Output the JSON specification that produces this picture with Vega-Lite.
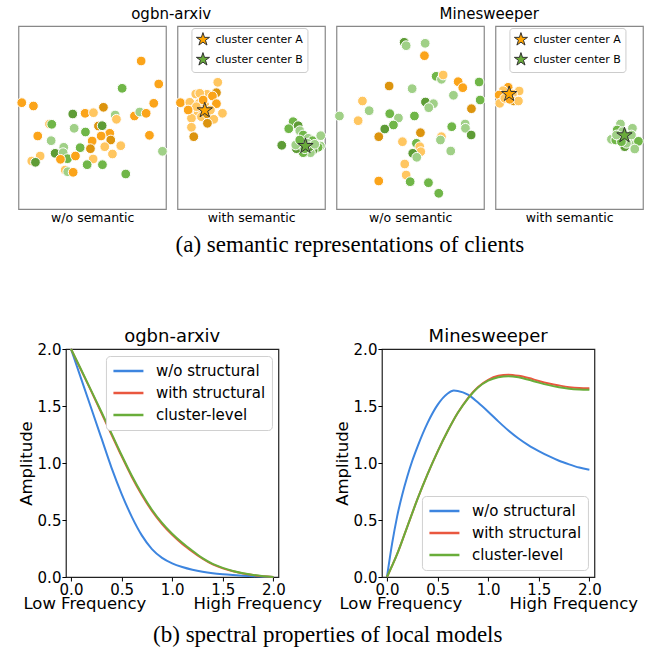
{
"$schema": "https://vega.github.io/schema/vega-lite/v6.json",
"padding": {"left": 14, "top": 6, "right": 0, "bottom": 0},
"config": {
  "font": "DejaVu Sans",
  "title": {"fontWeight": "normal", "color": "black"},
  "axis": {"labelColor": "black", "titleColor": "black", "titleFontWeight": "normal", "tickColor": "black", "grid": false},
  "legend": {"labelColor": "black"}
},
"datasets": {
  "pts": [
    {"p":1,"x":122.7,"y":35,"c":"A"},{"p":1,"x":140.3,"y":58,"c":"A"},{"p":1,"x":103.7,"y":62.3,"c":"B"},{"p":1,"x":3.3,"y":76.7,"c":"A"},{"p":1,"x":15,"y":80,"c":"A"},{"p":1,"x":135.3,"y":77.3,"c":"A"},{"p":1,"x":54.3,"y":88,"c":"Bd"},{"p":1,"x":66.7,"y":87.3,"c":"A"},{"p":1,"x":75,"y":86.7,"c":"Al"},{"p":1,"x":85,"y":81.3,"c":"Ad"},{"p":1,"x":96.7,"y":89,"c":"Bl"},{"p":1,"x":98,"y":93.3,"c":"Al"},{"p":1,"x":116,"y":90,"c":"A"},{"p":1,"x":121.3,"y":86,"c":"Bl"},{"p":1,"x":127.7,"y":87.3,"c":"A"},{"p":1,"x":31,"y":98,"c":"Al"},{"p":1,"x":33.3,"y":98.3,"c":"B"},{"p":1,"x":55.7,"y":102.3,"c":"Bl"},{"p":1,"x":67,"y":106,"c":"B"},{"p":1,"x":80,"y":100,"c":"Ad"},{"p":1,"x":83.7,"y":99.7,"c":"Bd"},{"p":1,"x":19.3,"y":110,"c":"A"},{"p":1,"x":32.7,"y":114.7,"c":"Bl"},{"p":1,"x":45.3,"y":121.3,"c":"Bl"},{"p":1,"x":91.3,"y":107.3,"c":"A"},{"p":1,"x":82.7,"y":110,"c":"A"},{"p":1,"x":92.3,"y":114,"c":"Ad"},{"p":1,"x":73.7,"y":115,"c":"A"},{"p":1,"x":131,"y":109.3,"c":"A"},{"p":1,"x":61.7,"y":121.7,"c":"B"},{"p":1,"x":72,"y":122.7,"c":"Ad"},{"p":1,"x":86.3,"y":120.7,"c":"Al"},{"p":1,"x":102.3,"y":119.7,"c":"Al"},{"p":1,"x":36.7,"y":127.3,"c":"Bd"},{"p":1,"x":44.7,"y":126.7,"c":"Bl"},{"p":1,"x":49,"y":132.7,"c":"B"},{"p":1,"x":42,"y":133.3,"c":"A"},{"p":1,"x":57,"y":130,"c":"A"},{"p":1,"x":74.7,"y":133,"c":"Al"},{"p":1,"x":94,"y":128,"c":"Al"},{"p":1,"x":144,"y":125.3,"c":"Bl"},{"p":1,"x":21.7,"y":130,"c":"Al"},{"p":1,"x":13.3,"y":135,"c":"Al"},{"p":1,"x":17,"y":136.3,"c":"Bd"},{"p":1,"x":68.7,"y":138.7,"c":"B"},{"p":1,"x":84,"y":138.7,"c":"B"},{"p":1,"x":46.7,"y":144,"c":"Al"},{"p":1,"x":49.3,"y":145.7,"c":"Bl"},{"p":1,"x":54.7,"y":146.3,"c":"A"},{"p":1,"x":107.3,"y":148,"c":"B"},
    {"p":2,"x":40.3,"y":56.3,"c":"Al"},{"p":2,"x":39,"y":66.7,"c":"Ad"},{"p":2,"x":18.3,"y":68,"c":"Al"},{"p":2,"x":29.7,"y":68.3,"c":"Al"},{"p":2,"x":35,"y":70,"c":"A"},{"p":2,"x":22.3,"y":67.3,"c":"Al"},{"p":2,"x":3,"y":76.7,"c":"A"},{"p":2,"x":12.3,"y":76.3,"c":"Al"},{"p":2,"x":39,"y":77.7,"c":"A"},{"p":2,"x":45,"y":87.3,"c":"Al"},{"p":2,"x":15.7,"y":84,"c":"Al"},{"p":2,"x":20.7,"y":87.3,"c":"Al"},{"p":2,"x":24,"y":90.7,"c":"Al"},{"p":2,"x":14,"y":92.3,"c":"Al"},{"p":2,"x":29.7,"y":88,"c":"Ad"},{"p":2,"x":36.3,"y":93.3,"c":"Al"},{"p":2,"x":30,"y":97.3,"c":"Ad"},{"p":2,"x":14,"y":101.3,"c":"Al"},{"p":2,"x":16.3,"y":110.7,"c":"Ad"},{"p":2,"x":27.3,"y":79,"c":"Al"},{"p":2,"x":21.7,"y":77.3,"c":"Al"},{"p":2,"x":19,"y":80.7,"c":"Al"},{"p":2,"x":33,"y":84,"c":"Al"},{"p":2,"x":25.7,"y":74,"c":"A"},{"p":2,"x":10.7,"y":84,"c":"A"},
    {"p":2,"x":115.7,"y":95.7,"c":"B"},{"p":2,"x":120.7,"y":99.7,"c":"Bd"},{"p":2,"x":111.3,"y":102.7,"c":"B"},{"p":2,"x":122.3,"y":104.7,"c":"Bl"},{"p":2,"x":125.7,"y":109,"c":"B"},{"p":2,"x":130.7,"y":112.3,"c":"Bl"},{"p":2,"x":135,"y":114.7,"c":"B"},{"p":2,"x":143.3,"y":109.7,"c":"Bl"},{"p":2,"x":143,"y":120,"c":"Bl"},{"p":2,"x":140.7,"y":121.3,"c":"B"},{"p":2,"x":135.7,"y":124,"c":"Bd"},{"p":2,"x":133,"y":126.7,"c":"Bl"},{"p":2,"x":125.7,"y":126.7,"c":"B"},{"p":2,"x":119,"y":122.7,"c":"Bd"},{"p":2,"x":124,"y":117.3,"c":"Bl"},{"p":2,"x":130,"y":117.3,"c":"Bl"},{"p":2,"x":104.3,"y":119.3,"c":"Bd"},{"p":2,"x":118.3,"y":119,"c":"Bl"},{"p":2,"x":132.3,"y":120.7,"c":"Bd"},{"p":2,"x":137.3,"y":118.3,"c":"Bl"},{"p":2,"x":127.3,"y":122.7,"c":"B"},{"p":2,"x":122.3,"y":114,"c":"B"},
    {"p":3,"x":67.7,"y":16.3,"c":"Bd"},{"p":3,"x":69.7,"y":19.7,"c":"Bl"},{"p":3,"x":88.7,"y":17.3,"c":"Bl"},{"p":3,"x":88,"y":29.7,"c":"A"},{"p":3,"x":99.7,"y":50.3,"c":"B"},{"p":3,"x":105,"y":53.3,"c":"Bl"},{"p":3,"x":106.7,"y":49,"c":"Al"},{"p":3,"x":121.7,"y":55.7,"c":"A"},{"p":3,"x":126.3,"y":61.7,"c":"A"},{"p":3,"x":142.7,"y":56,"c":"B"},{"p":3,"x":143.7,"y":74,"c":"B"},{"p":3,"x":52.7,"y":60,"c":"Ad"},{"p":3,"x":75.7,"y":62.7,"c":"Bl"},{"p":3,"x":26,"y":75,"c":"Al"},{"p":3,"x":89,"y":76,"c":"Bd"},{"p":3,"x":97,"y":77.7,"c":"Bl"},{"p":3,"x":92.3,"y":81.7,"c":"Bl"},{"p":3,"x":117,"y":69.3,"c":"Bl"},{"p":3,"x":135,"y":82.7,"c":"Ad"},{"p":3,"x":3,"y":90,"c":"Bl"},{"p":3,"x":21.7,"y":94.7,"c":"Al"},{"p":3,"x":32.7,"y":84.7,"c":"Bl"},{"p":3,"x":53.3,"y":87.7,"c":"B"},{"p":3,"x":62,"y":92,"c":"Bl"},{"p":3,"x":78,"y":90,"c":"B"},{"p":3,"x":57,"y":99,"c":"B"},{"p":3,"x":48.3,"y":103,"c":"Bd"},{"p":3,"x":42.3,"y":110.7,"c":"Ad"},{"p":3,"x":84,"y":106.7,"c":"Ad"},{"p":3,"x":66,"y":115.7,"c":"Al"},{"p":3,"x":80,"y":117.3,"c":"B"},{"p":3,"x":83.3,"y":120.7,"c":"Al"},{"p":3,"x":84.3,"y":125.7,"c":"Al"},{"p":3,"x":76.3,"y":127.3,"c":"Bd"},{"p":3,"x":80.3,"y":131.3,"c":"Bl"},{"p":3,"x":115.3,"y":100.7,"c":"B"},{"p":3,"x":128.7,"y":98,"c":"Bl"},{"p":3,"x":129,"y":102.3,"c":"Bl"},{"p":3,"x":134.7,"y":109,"c":"Bd"},{"p":3,"x":105,"y":110.7,"c":"Al"},{"p":3,"x":104,"y":114,"c":"Bl"},{"p":3,"x":114.3,"y":125,"c":"Bl"},{"p":3,"x":68.3,"y":138,"c":"Al"},{"p":3,"x":69.7,"y":149,"c":"Al"},{"p":3,"x":42.3,"y":155,"c":"A"},{"p":3,"x":73.7,"y":155.7,"c":"B"},{"p":3,"x":92,"y":156.7,"c":"B"},{"p":3,"x":102.3,"y":167.3,"c":"B"},
    {"p":4,"x":12.7,"y":61.3,"c":"A"},{"p":4,"x":7.7,"y":64.7,"c":"Al"},{"p":4,"x":23.7,"y":65,"c":"Al"},{"p":4,"x":17,"y":68,"c":"Al"},{"p":4,"x":3.7,"y":69,"c":"A"},{"p":4,"x":18.3,"y":75,"c":"Ad"},{"p":4,"x":23,"y":75,"c":"Al"},{"p":4,"x":4.3,"y":77.3,"c":"Al"},{"p":4,"x":9.3,"y":72.3,"c":"Al"},{"p":4,"x":14.3,"y":73.3,"c":"A"},
    {"p":4,"x":125,"y":98,"c":"Bl"},{"p":4,"x":137,"y":102.3,"c":"Bl"},{"p":4,"x":121.7,"y":104,"c":"B"},{"p":4,"x":127,"y":105.7,"c":"Bl"},{"p":4,"x":116,"y":113.3,"c":"Bl"},{"p":4,"x":120.3,"y":114,"c":"B"},{"p":4,"x":134.3,"y":114,"c":"B"},{"p":4,"x":138.3,"y":116,"c":"Bl"},{"p":4,"x":143,"y":115.3,"c":"B"},{"p":4,"x":139.3,"y":123,"c":"Bl"},{"p":4,"x":129.3,"y":120.7,"c":"Bd"},{"p":4,"x":132.7,"y":112.3,"c":"Bl"},{"p":4,"x":124.3,"y":110.7,"c":"B"},{"p":4,"x":131,"y":117.3,"c":"Bl"},{"p":4,"x":126,"y":115.7,"c":"B"},{"p":4,"x":136,"y":109,"c":"Bl"},{"p":4,"x":121,"y":109,"c":"Bl"}
  ],
  "stars": [
    {"p":2,"x":27.3,"y":84.3,"center":"cluster center A"},
    {"p":2,"x":128,"y":120,"center":"cluster center B"},
    {"p":4,"x":13.7,"y":68,"center":"cluster center A"},
    {"p":4,"x":129,"y":109.3,"center":"cluster center B"}
  ],
  "lines": [
    {"d":"arxiv","s":"w/o structural","f":0,"a":2.0},{"d":"arxiv","s":"w/o structural","f":0.1,"a":1.74},{"d":"arxiv","s":"w/o structural","f":0.2,"a":1.48},{"d":"arxiv","s":"w/o structural","f":0.3,"a":1.22},{"d":"arxiv","s":"w/o structural","f":0.4,"a":0.96},{"d":"arxiv","s":"w/o structural","f":0.5,"a":0.73},{"d":"arxiv","s":"w/o structural","f":0.6,"a":0.53},{"d":"arxiv","s":"w/o structural","f":0.7,"a":0.365},{"d":"arxiv","s":"w/o structural","f":0.8,"a":0.245},{"d":"arxiv","s":"w/o structural","f":0.9,"a":0.168},{"d":"arxiv","s":"w/o structural","f":1.0,"a":0.12},{"d":"arxiv","s":"w/o structural","f":1.1,"a":0.088},{"d":"arxiv","s":"w/o structural","f":1.2,"a":0.064},{"d":"arxiv","s":"w/o structural","f":1.3,"a":0.046},{"d":"arxiv","s":"w/o structural","f":1.4,"a":0.033},{"d":"arxiv","s":"w/o structural","f":1.5,"a":0.024},{"d":"arxiv","s":"w/o structural","f":1.6,"a":0.017},{"d":"arxiv","s":"w/o structural","f":1.7,"a":0.011},{"d":"arxiv","s":"w/o structural","f":1.8,"a":0.006},{"d":"arxiv","s":"w/o structural","f":1.9,"a":0.002},{"d":"arxiv","s":"w/o structural","f":2.0,"a":0.0},
    {"d":"arxiv","s":"with structural","f":0,"a":2.0},{"d":"arxiv","s":"with structural","f":0.1,"a":1.815},{"d":"arxiv","s":"with structural","f":0.2,"a":1.63},{"d":"arxiv","s":"with structural","f":0.3,"a":1.44},{"d":"arxiv","s":"with structural","f":0.4,"a":1.25},{"d":"arxiv","s":"with structural","f":0.5,"a":1.06},{"d":"arxiv","s":"with structural","f":0.6,"a":0.88},{"d":"arxiv","s":"with structural","f":0.7,"a":0.72},{"d":"arxiv","s":"with structural","f":0.8,"a":0.58},{"d":"arxiv","s":"with structural","f":0.9,"a":0.465},{"d":"arxiv","s":"with structural","f":1.0,"a":0.37},{"d":"arxiv","s":"with structural","f":1.1,"a":0.29},{"d":"arxiv","s":"with structural","f":1.2,"a":0.222},{"d":"arxiv","s":"with structural","f":1.3,"a":0.16},{"d":"arxiv","s":"with structural","f":1.4,"a":0.11},{"d":"arxiv","s":"with structural","f":1.5,"a":0.076},{"d":"arxiv","s":"with structural","f":1.6,"a":0.05},{"d":"arxiv","s":"with structural","f":1.7,"a":0.031},{"d":"arxiv","s":"with structural","f":1.8,"a":0.017},{"d":"arxiv","s":"with structural","f":1.9,"a":0.006},{"d":"arxiv","s":"with structural","f":2.0,"a":0.0},
    {"d":"arxiv","s":"cluster-level","f":0,"a":2.0},{"d":"arxiv","s":"cluster-level","f":0.1,"a":1.82},{"d":"arxiv","s":"cluster-level","f":0.2,"a":1.635},{"d":"arxiv","s":"cluster-level","f":0.3,"a":1.45},{"d":"arxiv","s":"cluster-level","f":0.4,"a":1.26},{"d":"arxiv","s":"cluster-level","f":0.5,"a":1.07},{"d":"arxiv","s":"cluster-level","f":0.6,"a":0.89},{"d":"arxiv","s":"cluster-level","f":0.7,"a":0.73},{"d":"arxiv","s":"cluster-level","f":0.8,"a":0.59},{"d":"arxiv","s":"cluster-level","f":0.9,"a":0.475},{"d":"arxiv","s":"cluster-level","f":1.0,"a":0.38},{"d":"arxiv","s":"cluster-level","f":1.1,"a":0.30},{"d":"arxiv","s":"cluster-level","f":1.2,"a":0.23},{"d":"arxiv","s":"cluster-level","f":1.3,"a":0.165},{"d":"arxiv","s":"cluster-level","f":1.4,"a":0.115},{"d":"arxiv","s":"cluster-level","f":1.5,"a":0.08},{"d":"arxiv","s":"cluster-level","f":1.6,"a":0.053},{"d":"arxiv","s":"cluster-level","f":1.7,"a":0.033},{"d":"arxiv","s":"cluster-level","f":1.8,"a":0.018},{"d":"arxiv","s":"cluster-level","f":1.9,"a":0.007},{"d":"arxiv","s":"cluster-level","f":2.0,"a":0.0},
    {"d":"mine","s":"w/o structural","f":0,"a":0},{"d":"mine","s":"w/o structural","f":0.05,"a":0.29},{"d":"mine","s":"w/o structural","f":0.1,"a":0.53},{"d":"mine","s":"w/o structural","f":0.15,"a":0.72},{"d":"mine","s":"w/o structural","f":0.2,"a":0.88},{"d":"mine","s":"w/o structural","f":0.25,"a":1.02},{"d":"mine","s":"w/o structural","f":0.3,"a":1.14},{"d":"mine","s":"w/o structural","f":0.4,"a":1.35},{"d":"mine","s":"w/o structural","f":0.5,"a":1.51},{"d":"mine","s":"w/o structural","f":0.6,"a":1.61},{"d":"mine","s":"w/o structural","f":0.66,"a":1.635},{"d":"mine","s":"w/o structural","f":0.7,"a":1.632},{"d":"mine","s":"w/o structural","f":0.8,"a":1.6},{"d":"mine","s":"w/o structural","f":0.9,"a":1.53},{"d":"mine","s":"w/o structural","f":1.0,"a":1.45},{"d":"mine","s":"w/o structural","f":1.1,"a":1.365},{"d":"mine","s":"w/o structural","f":1.2,"a":1.285},{"d":"mine","s":"w/o structural","f":1.3,"a":1.215},{"d":"mine","s":"w/o structural","f":1.4,"a":1.155},{"d":"mine","s":"w/o structural","f":1.5,"a":1.105},{"d":"mine","s":"w/o structural","f":1.6,"a":1.06},{"d":"mine","s":"w/o structural","f":1.7,"a":1.02},{"d":"mine","s":"w/o structural","f":1.8,"a":0.988},{"d":"mine","s":"w/o structural","f":1.9,"a":0.96},{"d":"mine","s":"w/o structural","f":2.0,"a":0.94},
    {"d":"mine","s":"with structural","f":0,"a":0},{"d":"mine","s":"with structural","f":0.1,"a":0.2},{"d":"mine","s":"with structural","f":0.2,"a":0.44},{"d":"mine","s":"with structural","f":0.3,"a":0.68},{"d":"mine","s":"with structural","f":0.4,"a":0.9},{"d":"mine","s":"with structural","f":0.5,"a":1.1},{"d":"mine","s":"with structural","f":0.6,"a":1.28},{"d":"mine","s":"with structural","f":0.7,"a":1.44},{"d":"mine","s":"with structural","f":0.8,"a":1.57},{"d":"mine","s":"with structural","f":0.9,"a":1.667},{"d":"mine","s":"with structural","f":1.0,"a":1.73},{"d":"mine","s":"with structural","f":1.1,"a":1.765},{"d":"mine","s":"with structural","f":1.2,"a":1.775},{"d":"mine","s":"with structural","f":1.3,"a":1.765},{"d":"mine","s":"with structural","f":1.4,"a":1.745},{"d":"mine","s":"with structural","f":1.5,"a":1.72},{"d":"mine","s":"with structural","f":1.6,"a":1.698},{"d":"mine","s":"with structural","f":1.7,"a":1.68},{"d":"mine","s":"with structural","f":1.8,"a":1.665},{"d":"mine","s":"with structural","f":1.9,"a":1.657},{"d":"mine","s":"with structural","f":2.0,"a":1.655},
    {"d":"mine","s":"cluster-level","f":0,"a":0},{"d":"mine","s":"cluster-level","f":0.1,"a":0.2},{"d":"mine","s":"cluster-level","f":0.2,"a":0.44},{"d":"mine","s":"cluster-level","f":0.3,"a":0.68},{"d":"mine","s":"cluster-level","f":0.4,"a":0.9},{"d":"mine","s":"cluster-level","f":0.5,"a":1.1},{"d":"mine","s":"cluster-level","f":0.6,"a":1.28},{"d":"mine","s":"cluster-level","f":0.7,"a":1.44},{"d":"mine","s":"cluster-level","f":0.8,"a":1.565},{"d":"mine","s":"cluster-level","f":0.9,"a":1.662},{"d":"mine","s":"cluster-level","f":1.0,"a":1.722},{"d":"mine","s":"cluster-level","f":1.1,"a":1.753},{"d":"mine","s":"cluster-level","f":1.2,"a":1.762},{"d":"mine","s":"cluster-level","f":1.3,"a":1.752},{"d":"mine","s":"cluster-level","f":1.4,"a":1.73},{"d":"mine","s":"cluster-level","f":1.5,"a":1.705},{"d":"mine","s":"cluster-level","f":1.6,"a":1.683},{"d":"mine","s":"cluster-level","f":1.7,"a":1.665},{"d":"mine","s":"cluster-level","f":1.8,"a":1.652},{"d":"mine","s":"cluster-level","f":1.9,"a":1.645},{"d":"mine","s":"cluster-level","f":2.0,"a":1.642}
  ]
},
"resolve": {"scale": {"color": "independent", "fill": "independent"}, "legend": {"color": "independent", "fill": "independent"}},
"vconcat": [
  {
    "bounds": "flush",
    "spacing": 11,
    "title": {"text": "(a) semantic representations of clients", "orient": "bottom", "font": "Liberation Serif", "fontSize": 23, "fontWeight": "normal", "offset": 10, "anchor": "middle"},
    "resolve": {"scale": {"fill": "independent"}, "legend": {"fill": "independent"}},
    "hconcat": [
      {
        "width": 147.5, "height": 183,
        "view": {"stroke": "#888", "strokeWidth": 1.2},
        "title": {"text": "ogbn-arxiv", "fontSize": 15, "offset": 4, "dx": 79, "frame": "group"},
        "data": {"name": "pts"},
        "transform": [{"filter": "datum.p == 1"}],
        "mark": {"type": "point", "filled": true, "size": 95, "stroke": "white", "strokeWidth": 1, "opacity": 1},
        "encoding": {
          "x": {"field": "x", "type": "quantitative", "scale": {"domain": [0, 147.5], "nice": false}, "axis": {"title": "w/o semantic", "labels": false, "ticks": false, "domain": false, "titleFontSize": 12.5, "titlePadding": 2}},
          "y": {"field": "y", "type": "quantitative", "scale": {"domain": [0, 183], "reverse": true, "nice": false}, "axis": null},
          "color": {"field": "c", "type": "nominal", "scale": {"domain": ["Ad", "A", "Al", "Bd", "B", "Bl"], "range": ["#DC940E", "#FBA41A", "#FFC660", "#5E9C36", "#70B648", "#A0D087"]}, "legend": null}
        }
      },
      {
        "width": 147.5, "height": 183,
        "view": {"stroke": "#888", "strokeWidth": 1.2},
        "layer": [
          {
            "data": {"name": "pts"},
            "transform": [{"filter": "datum.p == 2"}],
            "mark": {"type": "point", "filled": true, "size": 95, "stroke": "white", "strokeWidth": 1, "opacity": 1},
            "encoding": {
              "x": {"field": "x", "type": "quantitative", "scale": {"domain": [0, 147.5], "nice": false}, "axis": {"title": "with semantic", "labels": false, "ticks": false, "domain": false, "titleFontSize": 12.5, "titlePadding": 2}},
              "y": {"field": "y", "type": "quantitative", "scale": {"domain": [0, 183], "reverse": true, "nice": false}, "axis": null},
              "color": {"field": "c", "type": "nominal", "scale": {"domain": ["Ad", "A", "Al", "Bd", "B", "Bl"], "range": ["#DC940E", "#FBA41A", "#FFC660", "#5E9C36", "#70B648", "#A0D087"]}, "legend": null}
            }
          },
          {
            "data": {"name": "stars"},
            "transform": [{"filter": "datum.p == 2"}],
            "mark": {"type": "point", "shape": "M0,-1L0.2245,-0.309L0.951,-0.309L0.363,0.118L0.588,0.809L0,0.382L-0.588,0.809L-0.363,0.118L-0.951,-0.309L-0.2245,-0.309Z", "filled": true, "size": 260, "stroke": "#333", "strokeWidth": 1, "opacity": 1},
            "encoding": {
              "x": {"field": "x", "type": "quantitative"},
              "y": {"field": "y", "type": "quantitative"},
              "fill": {"field": "center", "type": "nominal", "scale": {"domain": ["cluster center A", "cluster center B"], "range": ["#FFA500", "#6AAB3B"]}, "legend": {"title": null, "orient": "none", "legendX": 14, "legendY": 2, "symbolType": "M0,-1L0.2245,-0.309L0.951,-0.309L0.363,0.118L0.588,0.809L0,0.382L-0.588,0.809L-0.363,0.118L-0.951,-0.309L-0.2245,-0.309Z", "symbolSize": 190, "symbolStrokeColor": "#333", "symbolStrokeWidth": 1, "symbolOpacity": 1, "labelFontSize": 11, "labelOffset": 5, "padding": 4, "rowPadding": 2, "strokeColor": "#cccccc", "cornerRadius": 3, "fillColor": "white"}}
            }
          }
        ]
      },
      {
        "width": 147.5, "height": 183,
        "view": {"stroke": "#888", "strokeWidth": 1.2},
        "title": {"text": "Minesweeper", "fontSize": 15, "offset": 4, "dx": 79, "frame": "group"},
        "data": {"name": "pts"},
        "transform": [{"filter": "datum.p == 3"}],
        "mark": {"type": "point", "filled": true, "size": 95, "stroke": "white", "strokeWidth": 1, "opacity": 1},
        "encoding": {
          "x": {"field": "x", "type": "quantitative", "scale": {"domain": [0, 147.5], "nice": false}, "axis": {"title": "w/o semantic", "labels": false, "ticks": false, "domain": false, "titleFontSize": 12.5, "titlePadding": 2}},
          "y": {"field": "y", "type": "quantitative", "scale": {"domain": [0, 183], "reverse": true, "nice": false}, "axis": null},
          "color": {"field": "c", "type": "nominal", "scale": {"domain": ["Ad", "A", "Al", "Bd", "B", "Bl"], "range": ["#DC940E", "#FBA41A", "#FFC660", "#5E9C36", "#70B648", "#A0D087"]}, "legend": null}
        }
      },
      {
        "width": 147.5, "height": 183,
        "view": {"stroke": "#888", "strokeWidth": 1.2},
        "layer": [
          {
            "data": {"name": "pts"},
            "transform": [{"filter": "datum.p == 4"}],
            "mark": {"type": "point", "filled": true, "size": 95, "stroke": "white", "strokeWidth": 1, "opacity": 1},
            "encoding": {
              "x": {"field": "x", "type": "quantitative", "scale": {"domain": [0, 147.5], "nice": false}, "axis": {"title": "with semantic", "labels": false, "ticks": false, "domain": false, "titleFontSize": 12.5, "titlePadding": 2}},
              "y": {"field": "y", "type": "quantitative", "scale": {"domain": [0, 183], "reverse": true, "nice": false}, "axis": {"orient": "right", "labels": false, "ticks": false, "domain": false, "title": "\u00a0", "titleFontSize": 11, "titlePadding": 31}},
              "color": {"field": "c", "type": "nominal", "scale": {"domain": ["Ad", "A", "Al", "Bd", "B", "Bl"], "range": ["#DC940E", "#FBA41A", "#FFC660", "#5E9C36", "#70B648", "#A0D087"]}, "legend": null}
            }
          },
          {
            "data": {"name": "stars"},
            "transform": [{"filter": "datum.p == 4"}],
            "mark": {"type": "point", "shape": "M0,-1L0.2245,-0.309L0.951,-0.309L0.363,0.118L0.588,0.809L0,0.382L-0.588,0.809L-0.363,0.118L-0.951,-0.309L-0.2245,-0.309Z", "filled": true, "size": 260, "stroke": "#333", "strokeWidth": 1, "opacity": 1},
            "encoding": {
              "x": {"field": "x", "type": "quantitative"},
              "y": {"field": "y", "type": "quantitative"},
              "fill": {"field": "center", "type": "nominal", "scale": {"domain": ["cluster center A", "cluster center B"], "range": ["#FFA500", "#6AAB3B"]}, "legend": {"title": null, "orient": "none", "legendX": 14, "legendY": 2, "symbolType": "M0,-1L0.2245,-0.309L0.951,-0.309L0.363,0.118L0.588,0.809L0,0.382L-0.588,0.809L-0.363,0.118L-0.951,-0.309L-0.2245,-0.309Z", "symbolSize": 190, "symbolStrokeColor": "#333", "symbolStrokeWidth": 1, "symbolOpacity": 1, "labelFontSize": 11, "labelOffset": 5, "padding": 4, "rowPadding": 2, "strokeColor": "#cccccc", "cornerRadius": 3, "fillColor": "white"}}
            }
          }
        ]
      }
    ]
  },
  {
    "bounds": "flush",
    "spacing": 103,
    "title": {"text": "(b) spectral properties of local models", "orient": "bottom", "font": "Liberation Serif", "fontSize": 23, "fontWeight": "normal", "offset": 12, "anchor": "middle"},
    "resolve": {"scale": {"color": "independent"}, "legend": {"color": "independent"}},
    "hconcat": [
      {
        "width": 212.5, "height": 228,
        "view": {"stroke": "#222", "strokeWidth": 1.2},
        "title": {"text": "ogbn-arxiv", "fontSize": 18, "offset": -4},
        "data": {"name": "lines"},
        "transform": [{"filter": "datum.d == 'arxiv'"}],
        "mark": {"type": "line", "strokeWidth": 2, "interpolate": "monotone"},
        "encoding": {
          "x": {"field": "f", "type": "quantitative", "scale": {"domain": [-0.05, 2.05], "nice": false, "zero": false}, "axis": {"values": [0, 0.5, 1, 1.5, 2], "format": ".1f", "labelFontSize": 15, "labelPadding": 1, "tickSize": 4, "domain": false, "title": "Low Frequency\u00a0\u00a0\u00a0\u00a0\u00a0\u00a0\u00a0\u00a0\u00a0High Frequency", "titleFontSize": 16.5, "titlePadding": -2}},
          "y": {"field": "a", "type": "quantitative", "scale": {"domain": [0, 2], "nice": false}, "axis": {"values": [0, 0.5, 1, 1.5, 2], "format": ".1f", "labelFontSize": 15, "labelPadding": 1, "tickSize": 4, "domain": false, "title": "Amplitude", "titleFontSize": 16.5, "titlePadding": 3}},
          "color": {"field": "s", "type": "nominal", "scale": {"domain": ["w/o structural", "with structural", "cluster-level"], "range": ["#3D85DF", "#E9573F", "#69AD3A"]}, "legend": {"title": null, "orient": "top-right", "offset": 7, "symbolType": "stroke", "symbolSize": 900, "symbolStrokeWidth": 2.5, "labelFontSize": 15, "labelOffset": 11, "padding": 6, "rowPadding": 4, "clipHeight": 18, "strokeColor": "#d0d0d0", "cornerRadius": 4, "fillColor": "white"}}
        }
      },
      {
        "width": 212.5, "height": 228,
        "view": {"stroke": "#222", "strokeWidth": 1.2},
        "title": {"text": "Minesweeper", "fontSize": 18, "offset": -4},
        "data": {"name": "lines"},
        "transform": [{"filter": "datum.d == 'mine'"}],
        "mark": {"type": "line", "strokeWidth": 2, "interpolate": "monotone"},
        "encoding": {
          "x": {"field": "f", "type": "quantitative", "scale": {"domain": [-0.05, 2.05], "nice": false, "zero": false}, "axis": {"values": [0, 0.5, 1, 1.5, 2], "format": ".1f", "labelFontSize": 15, "labelPadding": 1, "tickSize": 4, "domain": false, "title": "Low Frequency\u00a0\u00a0\u00a0\u00a0\u00a0\u00a0\u00a0\u00a0\u00a0High Frequency", "titleFontSize": 16.5, "titlePadding": -2}},
          "y": {"field": "a", "type": "quantitative", "scale": {"domain": [0, 2], "nice": false}, "axis": {"values": [0, 0.5, 1, 1.5, 2], "format": ".1f", "labelFontSize": 15, "labelPadding": 1, "tickSize": 4, "domain": false, "title": "Amplitude", "titleFontSize": 16.5, "titlePadding": 3}},
          "color": {"field": "s", "type": "nominal", "scale": {"domain": ["w/o structural", "with structural", "cluster-level"], "range": ["#3D85DF", "#E9573F", "#69AD3A"]}, "legend": {"title": null, "orient": "bottom-right", "offset": 7, "symbolType": "stroke", "symbolSize": 900, "symbolStrokeWidth": 2.5, "labelFontSize": 15, "labelOffset": 11, "padding": 6, "rowPadding": 4, "clipHeight": 18, "strokeColor": "#d0d0d0", "cornerRadius": 4, "fillColor": "white"}}
        }
      }
    ]
  }
],
"spacing": 69,
"center": true
}
